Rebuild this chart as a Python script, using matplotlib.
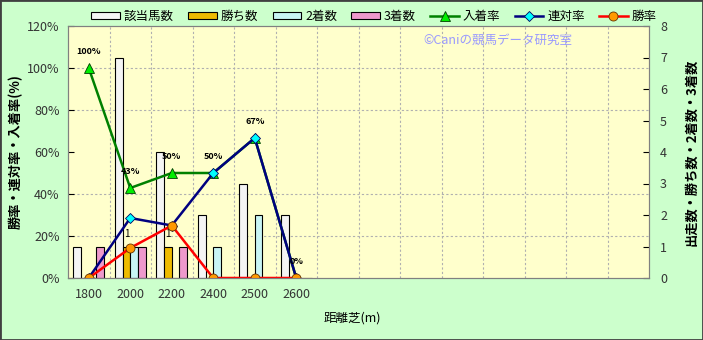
import numpy as np
import matplotlib
matplotlib.use('Agg')
import matplotlib.pyplot as plt
from matplotlib.patches import Rectangle

plt.rcParams['font.family'] = ['Noto Sans CJK JP', 'DejaVu Sans']

# data
distances = ['1800', '2000', '2200', '2400', '2500', '2600']
n_slots = 14  # chart keeps room for 14 categories
runners = [1, 7, 4, 2, 3, 2]     # 該当馬数
wins = [0, 1, 1, 0, 0, 0]        # 勝ち数
seconds = [0, 1, 0, 1, 2, 0]     # 2着数
thirds = [1, 1, 1, 0, 0, 0]      # 3着数
place_rate = [100, 42.86, 50, 50, 66.67, 0]   # 入着率
quinella_rate = [0, 28.57, 25, 50, 66.67, 0]  # 連対率
win_rate = [0, 14.29, 25, 0, 0, 0]            # 勝率
place_labels = ['100%', '43%', '50%', '50%', '67%', '0%']

fig = plt.figure(figsize=(7.03, 3.40), dpi=100)
fig.patch.set_facecolor('#CCFFCC')
fig.patches.append(Rectangle((0, 0), 1, 1, transform=fig.transFigure, fill=False,
                             edgecolor='#404040', linewidth=2))

ax = fig.add_axes([68/703, 62/340, 581/703, 252/340])
ax.set_facecolor('#FFFFCC')
ax2 = ax.twinx()
x = np.arange(len(distances))
w = 0.185

# bars, right scale
ax.bar(x - 1.5*w, runners, w, color='#F4F4F4', edgecolor='black', lw=0.8, label='該当馬数')
ax.bar(x - 0.5*w, wins, w, color='#EEBB00', edgecolor='black', lw=0.8, label='勝ち数')
ax.bar(x + 0.5*w, seconds, w, color='#C8F4F4', edgecolor='black', lw=0.8, label='2着数')
ax.bar(x + 1.5*w, thirds, w, color='#EE99CC', edgecolor='black', lw=0.8, label='3着数')
for i, v in enumerate(wins):
    if v > 0:
        ax.annotate(str(v), (x[i] - 0.5*w, v), xytext=(0, 9), textcoords='offset points',
                    ha='center', va='center', fontsize=7)

ax.set_xlim(-0.5, n_slots - 0.5)
ax.set_ylim(0, 8)
ax.yaxis.tick_right()
ax.yaxis.set_label_position('right')
ax.set_yticks(range(0, 9))
ax.set_yticks(np.linspace(0, 8, 7), minor=True)
ax.set_xticks(x)
ax.set_xticklabels(distances)
ax.set_xticks(np.arange(0.5, n_slots - 0.5, 1), minor=True)
ax.tick_params(axis='y', which='major', direction='in', length=4, labelsize=9,
               labelcolor='#333333', pad=8)
ax.tick_params(axis='x', which='major', length=0, labelsize=9, labelcolor='#333333', pad=7)
ax.tick_params(which='minor', length=0)
ax.grid(which='minor', color='#B0B0B0', linestyle=(0, (2, 2)), linewidth=0.8)
ax.set_axisbelow(True)
ax.set_ylabel('出走数・勝ち数・2着数・3着数', fontsize=9.5, rotation=90, fontweight='bold')
ax.yaxis.set_label_coords(1.06, 0.5)
ax.set_xlabel('距離芝(m)', fontsize=9)
ax.xaxis.set_label_coords(0.49, -0.135)

# lines, left scale
ax2.yaxis.tick_left()
ax2.yaxis.set_label_position('left')
ax2.set_ylim(0, 120)
ax2.set_yticks(range(0, 121, 20))
ax2.set_yticklabels([f'{v}%' for v in range(0, 121, 20)])
ax2.tick_params(axis='y', direction='in', length=4, labelsize=9, labelcolor='#333333', pad=6)
ax2.plot(x, place_rate, color='#008000', lw=1.8, marker='^', ms=7,
         mfc='#00EE00', mec='#004000', mew=0.6, label='入着率')
ax2.plot(x, quinella_rate, color='#000080', lw=1.8, marker='D', ms=5,
         mfc='#00FFFF', mec='#000060', mew=0.6, label='連対率')
ax2.plot(x, win_rate, color='#FF0000', lw=1.8, marker='o', ms=6.5,
         mfc='#FF9900', mec='#663300', mew=0.6, label='勝率')
for i, t in enumerate(place_labels):
    ax2.annotate(t, (x[i], place_rate[i]), xytext=(0, 12), textcoords='offset points',
                 ha='center', va='center', fontsize=6.5, fontweight='bold')
ax2.set_ylabel('勝率・連対率・入着率(%)', fontsize=9.5, fontweight='bold')
ax2.yaxis.set_label_coords(-0.077, 0.5)

for a in (ax, ax2):
    for s in a.spines.values():
        s.set_color('#808080')

ax2.text(0.74, 0.945, '©Caniの競馬データ研究室', transform=ax2.transAxes,
         ha='center', va='center', fontsize=9, color='#9999FF')

h1, l1 = ax.get_legend_handles_labels()
h2, l2 = ax2.get_legend_handles_labels()
fig.legend(h1 + h2, l1 + l2, loc='center', bbox_to_anchor=(0.532, 0.952), ncol=7,
           frameon=False, fontsize=9, handlelength=2.3, handleheight=0.5,
           columnspacing=1.15, handletextpad=0.3)

fig.savefig('out.png', dpi=100, facecolor=fig.get_facecolor())
